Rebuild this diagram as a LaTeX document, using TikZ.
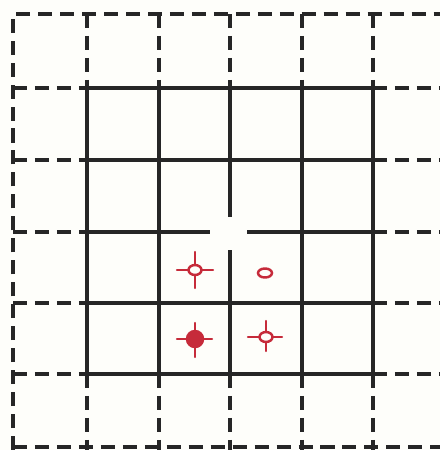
\documentclass[tikz,border=0pt]{standalone}
\usepackage{xcolor}
\usepackage{tikz}
\definecolor{paper}{HTML}{FEFEFA}
\definecolor{ink}{HTML}{262626}
\definecolor{pin}{HTML}{C62B3A}

\begin{document}
\begin{tikzpicture}[x=0.02cm, y=-0.02cm,
      border/.style={draw=ink, line width=2.4pt},
      wall/.style={draw=ink, line width=2pt},
      ghost/.style={draw=ink, line width=1.9pt, dash pattern=on 8pt off 4.5pt},
      ring/.style={draw=pin, line width=1.4pt},
      blob/.style={draw=pin, fill=pin, line width=1.4pt},
      arm/.style={draw=pin, line width=1.4pt, line cap=round}
    ]
    \fill[paper] (0,0) rectangle (440,450);
    \useasboundingbox (0,0) rectangle (440,450);

    % outer dashed frame and extensions
    \draw[ghost] (13,450) -- (13,14) -- (440,14);
    \draw[ghost] (13,447) -- (440,447);
    \foreach \x in {87,159,230,302,373} {
      \draw[ghost] (\x,14) -- (\x,88);
      \draw[ghost] (\x,374) -- (\x,450);
    }
    \foreach \y in {88,160,232,303,374} {
      \draw[ghost] (13,\y) -- (87,\y);
      \draw[ghost] (373,\y) -- (440,\y);
    }

    % inner solid grid
    \foreach \x in {159,302} \draw[wall] (\x,88) -- (\x,374);
    \foreach \y in {160,303} \draw[wall] (87,\y) -- (373,\y);
    \draw[wall] (230,88) -- (230,217);
    \draw[wall] (230,250) -- (230,374);
    \draw[wall] (87,232) -- (210,232);
    \draw[wall] (247,232) -- (373,232);
    \draw[border] (87,88) rectangle (373,374);

    % red marks
    \draw[ring] (195,270) ellipse [x radius=6.5, y radius=5];
    \draw[arm] (177,270) -- (188.5,270) (201.5,270) -- (213,270)
               (195,252) -- (195,265) (195,275) -- (195,288);

    \draw[ring] (265,273) ellipse [x radius=7, y radius=4.5];

    \draw[blob] (195,339) circle [radius=8];
    \draw[arm] (177,339) -- (212,339) (195,323) -- (195,357);

    \draw[ring] (266,337) ellipse [x radius=6.5, y radius=5];
    \draw[arm] (248,337) -- (259.5,337) (272.5,337) -- (282,337)
               (266,321) -- (266,332) (266,342) -- (266,351);
\end{tikzpicture}
\end{document}
